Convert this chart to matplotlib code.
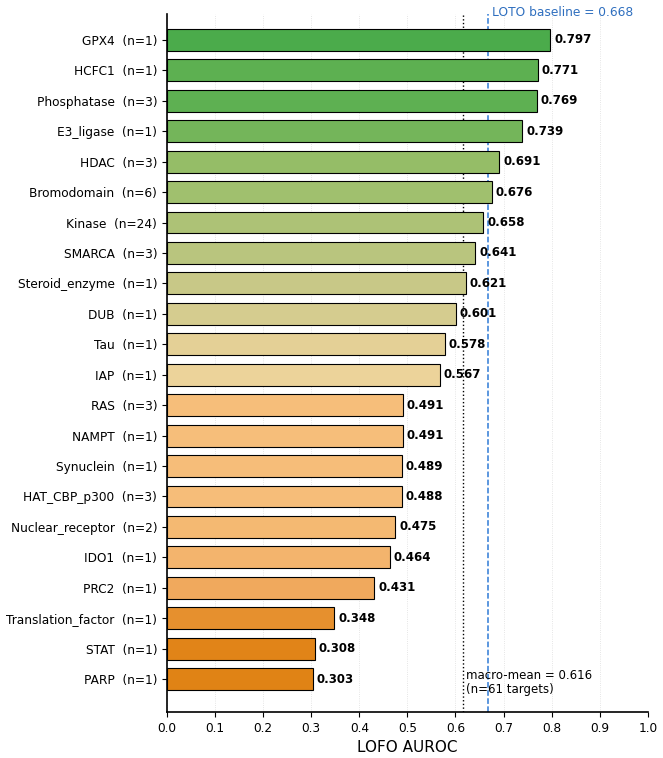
import matplotlib
matplotlib.use("Agg")
import matplotlib.pyplot as plt
import numpy as np
from matplotlib.colors import LinearSegmentedColormap, Normalize

families = ["GPX4", "HCFC1", "Phosphatase", "E3_ligase", "HDAC", "Bromodomain", "Kinase",
            "SMARCA", "Steroid_enzyme", "DUB", "Tau", "IAP", "RAS", "NAMPT", "Synuclein",
            "HAT_CBP_p300", "Nuclear_receptor", "IDO1", "PRC2", "Translation_factor", "STAT", "PARP"]
n_targets = [1, 1, 3, 1, 3, 6, 24, 3, 1, 1, 1, 1, 3, 1, 1, 3, 2, 1, 1, 1, 1, 1]
auroc = [0.797, 0.771, 0.769, 0.739, 0.691, 0.676, 0.658, 0.641, 0.621, 0.601, 0.578, 0.567,
         0.491, 0.491, 0.489, 0.488, 0.475, 0.464, 0.431, 0.348, 0.308, 0.303]
macro_mean = 0.616
loto_baseline = 0.668

cmap = LinearSegmentedColormap.from_list("og", [
    (0.0, "#e08214"), (0.25, "#efa75a"), (0.38, "#f6be7a"), (0.52, "#f0d49c"),
    (0.62, "#d0ca8c"), (0.8, "#8fbc64"), (1.0, "#4aab4a")])
norm = Normalize(0.3, 0.8)

fig = plt.figure(figsize=(6.63, 7.58), dpi=100)
ax = fig.add_axes([0.252, 0.0607, 0.725, 0.9208])

y = np.arange(len(families))
labels = [f"{f}  (n={n})" for f, n in zip(families, n_targets)]
ax.barh(y, auroc, height=0.72, color=cmap(norm(np.array(auroc))), edgecolor="black", linewidth=0.8, zorder=3)
for yi, v in zip(y, auroc):
    ax.text(v + 0.008, yi, f"{v:.3f}", va="center", ha="left", fontsize=8.5, fontweight="bold", zorder=4)

ax.axvline(macro_mean, color="black", linestyle=":", linewidth=1, zorder=2)
ax.axvline(loto_baseline, color="#2f7bd6", linestyle="--", linewidth=1.1, zorder=2)
ax.text(loto_baseline + 0.008, -0.70, f"LOTO baseline = {loto_baseline:.3f}", color="#2f6fbf",
        fontsize=8.8, ha="left", va="bottom")
ax.text(macro_mean + 0.006, 21.55, f"macro-mean = {macro_mean:.3f}\n(n=61 targets)",
        fontsize=8.5, ha="left", va="bottom", linespacing=1.05)

ax.set_yticks(y)
ax.set_yticklabels(labels, fontsize=8.7)
ax.set_ylim(22.08, -0.85)
ax.set_xlim(0, 1.0)
ax.set_xticks(np.arange(0, 1.01, 0.1))
ax.set_xticklabels([f"{t:.1f}" for t in np.arange(0, 1.01, 0.1)], fontsize=8.7)
ax.set_xlabel("LOFO AUROC", fontsize=11)
ax.grid(axis="x", color="#dddddd", linewidth=0.6, linestyle=":", zorder=0)
ax.spines["top"].set_visible(False)
ax.spines["right"].set_visible(False)
ax.spines["left"].set_linewidth(1.2)
ax.spines["bottom"].set_linewidth(1.2)

fig.savefig("out.png", dpi=100)
